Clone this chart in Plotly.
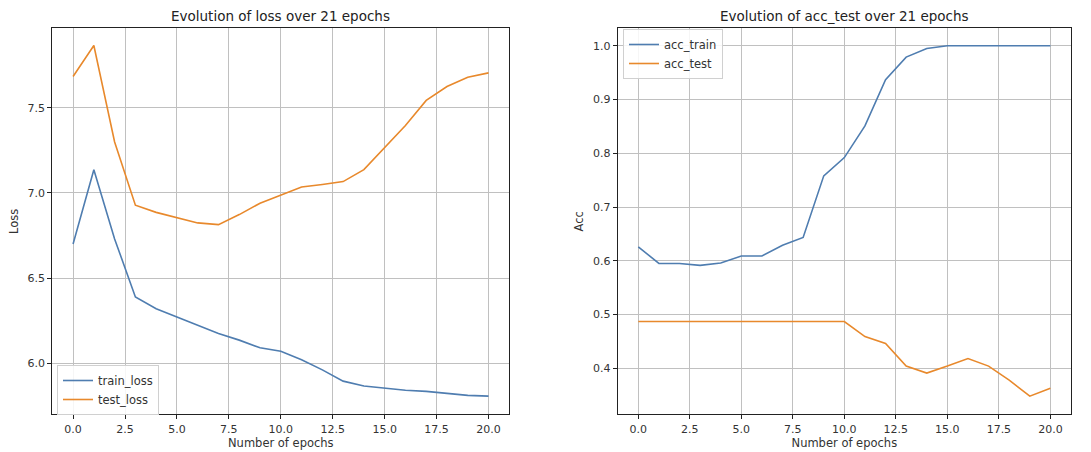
import plotly.graph_objects as go

epochs = list(range(21))
train_loss = [6.70, 7.137, 6.73, 6.389, 6.32, 6.27, 6.22, 6.174, 6.135, 6.09, 6.07,
              6.02, 5.96, 5.894, 5.865, 5.851, 5.84, 5.834, 5.824, 5.81, 5.806]
test_loss = [7.685, 7.867, 7.30, 6.928, 6.886, 6.857, 6.824, 6.814, 6.873, 6.94, 6.986,
             7.035, 7.05, 7.067, 7.137, 7.27, 7.397, 7.544, 7.626, 7.68, 7.706]
acc_train = [0.626, 0.595, 0.595, 0.5915, 0.596, 0.609, 0.609, 0.629, 0.6435, 0.758, 0.792,
             0.851, 0.937, 0.979, 0.995, 1.0, 1.0, 1.0, 1.0, 1.0, 1.0]
acc_test = [0.487, 0.487, 0.487, 0.487, 0.487, 0.487, 0.487, 0.487, 0.487, 0.487, 0.487,
            0.459, 0.446, 0.404, 0.391, 0.404, 0.418, 0.404, 0.378, 0.348, 0.363]

x_ticks = [0, 2.5, 5, 7.5, 10, 12.5, 15, 17.5, 20]
loss_ticks = [6.0, 6.5, 7.0, 7.5]
acc_ticks = [0.4, 0.5, 0.6, 0.7, 0.8, 0.9, 1.0]

BLUE = "#4f7db0"
ORANGE = "#e8892c"
FONT = "DejaVu Sans"
W, H = 1091, 452

fig = go.Figure()
fig.add_trace(go.Scatter(x=epochs, y=train_loss, mode="lines", name="train_loss",
                         line=dict(color=BLUE, width=1.6), xaxis="x", yaxis="y", legend="legend"))
fig.add_trace(go.Scatter(x=epochs, y=test_loss, mode="lines", name="test_loss",
                         line=dict(color=ORANGE, width=1.6), xaxis="x", yaxis="y", legend="legend"))
fig.add_trace(go.Scatter(x=epochs, y=acc_train, mode="lines", name="acc_train",
                         line=dict(color=BLUE, width=1.6), xaxis="x2", yaxis="y2", legend="legend2"))
fig.add_trace(go.Scatter(x=epochs, y=acc_test, mode="lines", name="acc_test",
                         line=dict(color=ORANGE, width=1.6), xaxis="x2", yaxis="y2", legend="legend2"))

ytop = 1 - 28.3 / H
ybot = 1 - 414.3 / H

axis_common = dict(showline=True, linecolor="#222222", linewidth=1, mirror=True,
                   showgrid=True, gridcolor="#c0c0c0", gridwidth=1,
                   ticks="outside", ticklen=4, tickcolor="#222222",
                   tickfont=dict(family=FONT, size=11, color="#333333"),
                   zeroline=False)
title_font = dict(family=FONT, size=11.5, color="#333333")

fig.update_layout(
    width=W, height=H,
    margin=dict(l=0, r=0, t=0, b=0),
    paper_bgcolor="white", plot_bgcolor="white",
    font=dict(family=FONT, size=11, color="#333333"),
    xaxis=dict(domain=[52.3 / W, 509.3 / W], range=[-1, 21], tickvals=x_ticks,
               ticktext=[f"{v:.1f}" for v in x_ticks], anchor="y",
               title=dict(text="Number of epochs", font=title_font, standoff=4),
               **axis_common),
    yaxis=dict(domain=[ybot, ytop], range=[5.699, 7.968], tickvals=loss_ticks,
               ticktext=[f"{v:.1f}" for v in loss_ticks], anchor="x",
               title=dict(text="Loss", font=title_font, standoff=6),
               **axis_common),
    xaxis2=dict(domain=[617.7 / W, 1071 / W], range=[-1, 21], tickvals=x_ticks,
                ticktext=[f"{v:.1f}" for v in x_ticks], anchor="y2",
                title=dict(text="Number of epochs", font=title_font, standoff=4),
                **axis_common),
    yaxis2=dict(domain=[ybot, ytop], range=[0.3143, 1.0326], tickvals=acc_ticks,
                ticktext=[f"{v:.1f}" for v in acc_ticks], anchor="x2",
                title=dict(text="Acc", font=title_font, standoff=6),
                **axis_common),
    legend=dict(x=57 / W, y=1 - 365 / H, xanchor="left", yanchor="top",
                bgcolor="rgba(255,255,255,0.85)", bordercolor="#d0d0d0", borderwidth=1,
                font=dict(family=FONT, size=11.5, color="#333333"), tracegroupgap=0,
                itemwidth=30),
    legend2=dict(x=623 / W, y=1 - 29 / H, xanchor="left", yanchor="top",
                 bgcolor="rgba(255,255,255,0.85)", bordercolor="#d0d0d0", borderwidth=1,
                 font=dict(family=FONT, size=11.5, color="#333333"), tracegroupgap=0,
                 itemwidth=30),
    showlegend=True,
    annotations=[
        dict(text="Evolution of loss over 21 epochs", x=(52.3 + 509.3) / 2 / W, y=1 - 16 / H,
             xref="paper", yref="paper", xanchor="center", yanchor="middle", showarrow=False,
             font=dict(family=FONT, size=13.5, color="#222222")),
        dict(text="Evolution of acc_test over 21 epochs", x=(617.7 + 1071) / 2 / W, y=1 - 16 / H,
             xref="paper", yref="paper", xanchor="center", yanchor="middle", showarrow=False,
             font=dict(family=FONT, size=13.5, color="#222222")),
    ],
)

fig.write_html("out.html", config={"displayModeBar": False},
               post_script="document.body.style.margin='0';")
